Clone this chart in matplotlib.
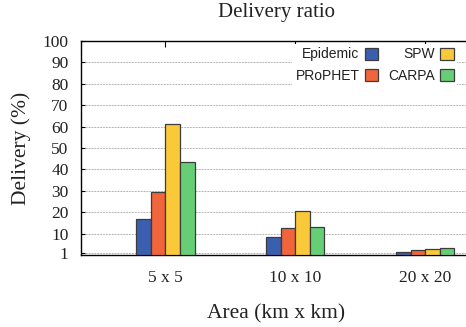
import numpy as np
import matplotlib
matplotlib.use("Agg")
import matplotlib.pyplot as plt

areas = ["5 x 5", "10 x 10", "20 x 20"]
protocols = ["Epidemic", "PRoPHET", "SPW", "CARPA"]
colors = ["#3a5fae", "#f0653b", "#f9c93a", "#66cf76"]

epidemic = [16.8, 8.3, 1.4]
prophet = [29.3, 12.4, 2.3]
spw = [61.2, 20.5, 2.6]
carpa = [43.3, 13.3, 3.3]
series = [epidemic, prophet, spw, carpa]

yticks = [1, 10, 20, 30, 40, 50, 60, 70, 80, 90, 100]

serif = "Liberation Serif"
sans = "Liberation Sans"

fig = plt.figure(figsize=(4.66, 3.27), dpi=100)
ax = fig.add_axes([81 / 466, 1 - 255 / 327, 391 / 466, 214 / 327])

x = np.arange(len(areas))
width = 0.112
for i, (name, vals) in enumerate(zip(protocols, series)):
    ax.bar(x + (i - 1.5) * width, vals, width, color=colors[i],
           edgecolor="#3c3c3c", linewidth=0.9, label=name, zorder=3)

ax.set_xlim(-0.65, 2.36)
ax.set_ylim(0, 100)
ax.set_yticks(yticks)
ax.set_xticks(x)
ax.set_xticklabels(areas, fontfamily=serif, fontsize=12.5, color="#222222")
for lab in ax.get_yticklabels():
    lab.set_fontfamily(serif)
    lab.set_fontsize(12.5)
    lab.set_color("#222222")

ax.yaxis.grid(True, color="#666666", linestyle=(0, (1, 1.2)), linewidth=0.5, zorder=0)
ax.set_axisbelow(True)
ax.tick_params(axis="x", direction="in", length=4, top=True, bottom=True, pad=11, width=0.8)
ax.tick_params(axis="y", direction="in", length=3, left=True, right=True, pad=9, width=0.8)
for s in ax.spines.values():
    s.set_linewidth(1.0)

ax.set_title("Delivery ratio", fontfamily=serif, fontsize=15, pad=17, color="#222222")
ax.set_xlabel("Area (km x km)", fontfamily=serif, fontsize=15.5, labelpad=13, color="#222222")
ax.set_ylabel("Delivery (%)", fontfamily=serif, fontsize=15.5, labelpad=8, color="#222222")

leg = ax.legend(ncol=2, loc="upper right", bbox_to_anchor=(457 / 466, 1 - 44 / 327),
                bbox_transform=fig.transFigure, markerfirst=False,
                prop={"family": sans, "size": 10}, frameon=True, fancybox=False,
                facecolor="white", edgecolor="none", framealpha=1,
                handlelength=0.95, handleheight=0.95, handletextpad=0.4,
                columnspacing=0.7, labelspacing=0.55, borderpad=0.25, borderaxespad=0)
leg.set_zorder(5)
for t in leg.get_texts():
    t.set_color("#222222")

fig.savefig("out.png", dpi=100)
